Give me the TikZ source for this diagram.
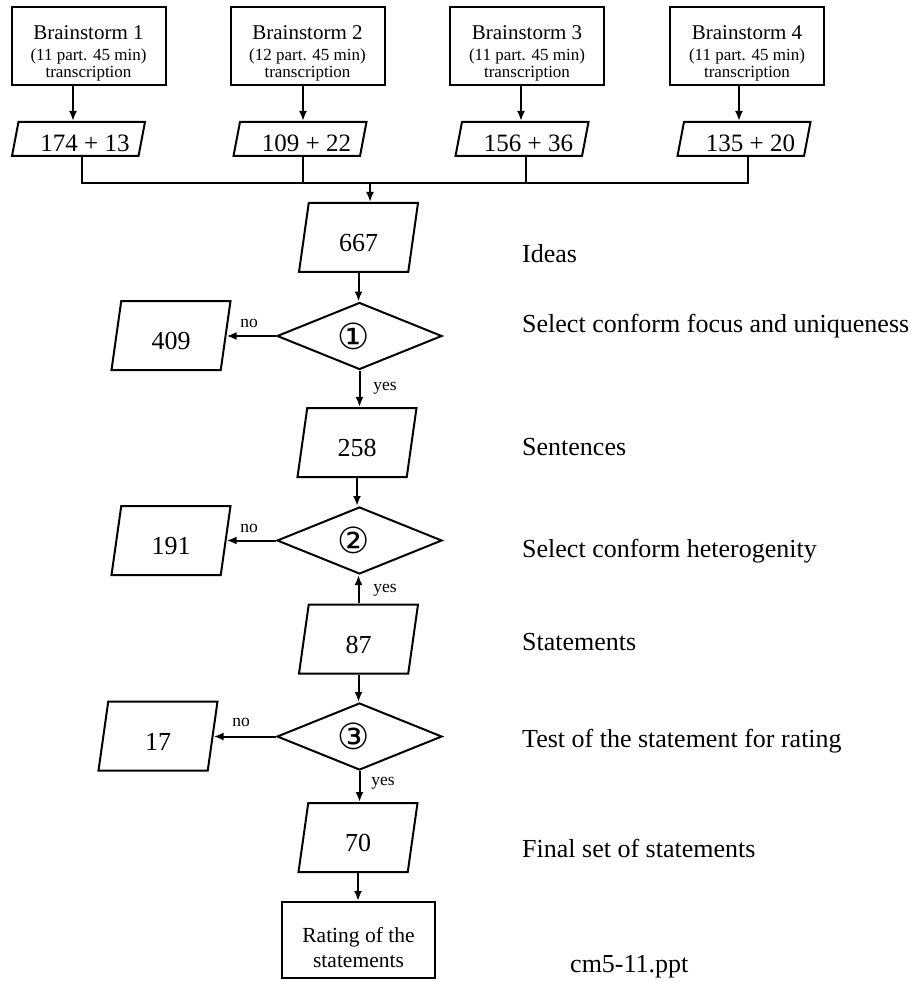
\documentclass[tikz,border=0pt]{standalone}
\usepackage{fontspec}
\setmainfont{Liberation Serif}
\newfontfamily\symfont{DejaVu Sans}
\usetikzlibrary{shapes.geometric,arrows.meta}
\begin{document}
\begin{tikzpicture}[x=1pt,y=-1pt,
  line/.style={line width=2pt},
  arr/.style={line width=2pt,-{Latex[length=10pt,width=8pt]}},
  box/.style={draw,line width=2pt,minimum width=154pt,minimum height=78pt,inner sep=0pt,align=center,font=\fontsize{17}{17}\selectfont},
  spara/.style={draw,line width=2pt,shape=trapezium,trapezium left angle=76,trapezium right angle=104,trapezium stretches body,minimum width=133pt,minimum height=34pt,inner sep=0pt,font=\fontsize{25}{25}\selectfont,text height=26pt,text depth=0pt},
  bpara/.style={draw,line width=2pt,shape=trapezium,trapezium left angle=70.8,trapezium right angle=109.2,trapezium stretches body,minimum width=119pt,minimum height=69pt,inner sep=0pt,font=\fontsize{26}{26}\selectfont,text height=28pt,text depth=0pt},
  dia/.style={draw,line width=2pt,shape=diamond,minimum width=165pt,minimum height=67pt,inner sep=0pt,font=\symfont\fontsize{36}{36}\selectfont},
  side/.style={anchor=base west,font=\fontsize{26}{26}\selectfont,inner sep=0pt},
  lbl/.style={font=\fontsize{17.5}{17.5}\selectfont,inner sep=0pt},
  rbox/.style={draw,line width=2pt,minimum width=153pt,minimum height=76pt,inner sep=0pt,align=center,font=\fontsize{21.5}{25}\selectfont}]
\useasboundingbox (0,0) rectangle (910,981);

% top boxes
\node[box] (b1) at (88.5,46) {{\fontsize{21}{21}\selectfont\rule{0pt}{29pt}Brainstorm 1}\\[4pt](11 part. 45 min)\\transcription};
\node[box] (b2) at (307.5,46) {{\fontsize{21}{21}\selectfont\rule{0pt}{29pt}Brainstorm 2}\\[4pt](12 part. 45 min)\\transcription};
\node[box] (b3) at (527,46) {{\fontsize{21}{21}\selectfont\rule{0pt}{29pt}Brainstorm 3}\\[4pt](11 part. 45 min)\\transcription};
\node[box] (b4) at (747,46) {{\fontsize{21}{21}\selectfont\rule{0pt}{29pt}Brainstorm 4}\\[4pt](11 part. 45 min)\\transcription};

\node[spara] (p1) at (78.5,139) {\hspace*{13pt}174 + 13};
\node[spara] (p2) at (300,139) {\hspace*{13pt}109 + 22};
\node[spara] (p3) at (522,139) {\hspace*{13pt}156 + 36};
\node[spara] (p4) at (744,139) {\hspace*{13pt}135 + 20};

% main column
\node[bpara] (n667) at (358.5,237.5) {667};
\node[dia] (d1) at (359.5,336) {\hspace*{-12pt}①};
\node[bpara] (n409) at (171,335.5) {409};
\node[bpara] (n258) at (357,442.5) {258};
\node[dia] (d2) at (359.5,540.5) {\hspace*{-12pt}②};
\node[bpara] (n191) at (171,540.5) {191};
\node[bpara] (n87) at (358.5,639) {87};
\node[dia] (d3) at (359.5,736.5) {\hspace*{-12pt}③};
\node[bpara] (n17) at (158,736) {17};
\node[bpara] (n70) at (358,837.5) {70};
\node[rbox] (rate) at (358.5,940) {\rule{0pt}{31pt}Rating of the\\statements};

% side texts
\node[side] (t1) at (522,262) {Ideas};
\node[side] (t2) at (522,332) {Select conform focus and uniqueness};
\node[side] (t3) at (522,455) {Sentences};
\node[side] (t4) at (522,557) {Select conform heterogenity};
\node[side] (t5) at (522,650) {Statements};
\node[side] (t6) at (522,747) {Test of the statement for rating};
\node[side] (t7) at (522,857) {Final set of statements};
\node[side] (t8) at (570,972) {cm5-11.ppt};

% yes / no labels
\node[lbl] (no1) at (249,323) {no};
\node[lbl] (yes1) at (385,388) {yes};
\node[lbl] (no2) at (249,528) {no};
\node[lbl] (yes2) at (385,590) {yes};
\node[lbl] (no3) at (241,722) {no};
\node[lbl] (yes3) at (383,783) {yes};

% connectors top
\coordinate (a1) at (73,0);
\coordinate (a2) at (303,0);
\coordinate (a3) at (521,0);
\coordinate (a4) at (739,0);
\draw[arr] (b1.south -| a1) -- (p1.north -| a1);
\draw[arr] (b2.south -| a2) -- (p2.north -| a2);
\draw[arr] (b3.south -| a3) -- (p3.north -| a3);
\draw[arr] (b4.south -| a4) -- (p4.north -| a4);

\coordinate (bus) at (0,183);
\coordinate (l1) at (82,0);
\coordinate (l2) at (303,0);
\coordinate (l3) at (526,0);
\coordinate (l4) at (748,0);
\draw[line] (p1.south -| l1) -- (bus -| l1) -- (bus -| l4) -- (p4.south -| l4);
\draw[line] (p2.south -| l2) -- (bus -| l2);
\draw[line] (p3.south -| l3) -- (bus -| l3);
\coordinate (j) at (370,183);
\draw[arr] (j) -- (j |- n667.north);

% main column connectors
\draw[arr] (n667.south) -- (n667.south |- d1.north);
\draw[arr] (d1.west) -- (d1.west -| n409.east);
\draw[arr] (d1.south) -- (d1.south |- n258.north);
\draw[arr] (n258.south) -- (n258.south |- d2.north);
\draw[arr] (d2.west) -- (d2.west -| n191.east);
\draw[arr] (n87.north) -- (n87.north |- d2.south);
\draw[arr] (n87.south) -- (n87.south |- d3.north);
\draw[arr] (d3.west) -- (d3.west -| n17.east);
\draw[arr] (d3.south) -- (d3.south |- n70.north);
\draw[arr] (n70.south) -- (n70.south |- rate.north);
\end{tikzpicture}
\end{document}
